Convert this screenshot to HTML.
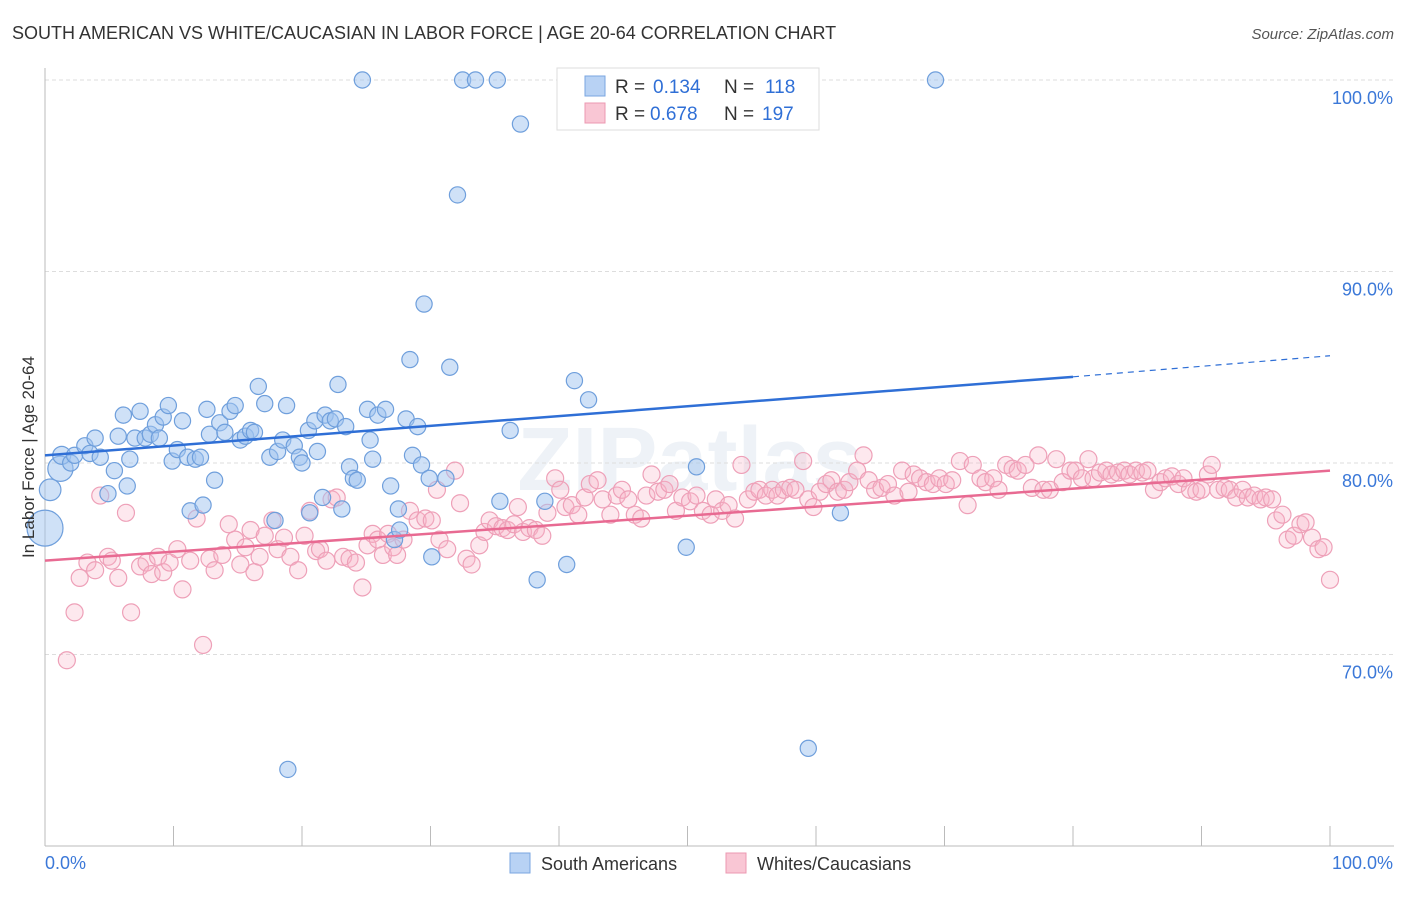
<!DOCTYPE html>
<html><head><meta charset="utf-8"><style>
body{margin:0;background:#fff;font-family:"Liberation Sans",sans-serif;}
svg text{font-family:"Liberation Sans",sans-serif;}
</style></head><body>
<svg id="chart" width="1406" height="892" viewBox="0 0 1406 892" xmlns="http://www.w3.org/2000/svg">
<text x="12" y="39" font-size="18" fill="#333">SOUTH AMERICAN VS WHITE/CAUCASIAN IN LABOR FORCE | AGE 20-64 CORRELATION CHART</text>
<text x="1394" y="39" font-size="15" fill="#555" text-anchor="end" font-style="italic">Source: ZipAtlas.com</text>
<text x="690" y="490" font-size="90" fill="#eef2f7" text-anchor="middle" font-weight="bold">ZIPatlas</text>
<g id="grid"></g>
<g id="axes"></g>
<g id="pink"></g>
<g id="blue"></g>
<g id="trends"></g>
<text transform="translate(34,457) rotate(-90)" font-size="17" fill="#333" text-anchor="middle">In Labor Force | Age 20-64</text>
<g>
<rect x="557" y="68" width="262" height="62" fill="#fff" stroke="#ddd"/>
<rect x="585" y="76" width="20" height="20" fill="#b8d2f4" stroke="#7aa6e0"/>
<rect x="585" y="103" width="20" height="20" fill="#f9c6d4" stroke="#ec98b2"/>
<text x="615" y="93" font-size="19" fill="#333">R =</text><text x="653" y="93" font-size="19" fill="#2f6fd6">0.134</text>
<text x="724" y="93" font-size="19" fill="#333">N =</text><text x="765" y="93" font-size="19" fill="#2f6fd6">118</text>
<text x="615" y="120" font-size="19" fill="#333">R =</text><text x="650" y="120" font-size="19" fill="#2f6fd6">0.678</text>
<text x="724" y="120" font-size="19" fill="#333">N =</text><text x="762" y="120" font-size="19" fill="#2f6fd6">197</text>
</g>
<g>
<rect x="510" y="853" width="20" height="20" fill="#b8d2f4" stroke="#7aa6e0"/>
<text x="541" y="870" font-size="18" fill="#333">South Americans</text>
<rect x="726" y="853" width="20" height="20" fill="#f9c6d4" stroke="#ec98b2"/>
<text x="757" y="870" font-size="18" fill="#333">Whites/Caucasians</text>
</g>
</svg>
<script>
const blueX=[0,0.4,1.2,1.3,2,2.3,3.1,3.5,3.9,4.3,4.9,5.4,5.7,6.1,6.4,6.6,7,7.4,7.8,8.2,8.6,8.9,9.2,9.6,9.9,10.3,10.7,11.1,11.3,11.7,12.1,12.3,12.6,12.8,13.2,13.6,14,14.4,14.8,15.2,15.6,16,16.3,16.6,17.1,17.5,17.9,18.1,18.5,18.8,18.9,19.4,19.8,20,20.5,20.6,21,21.2,21.6,21.8,22.2,22.6,22.8,23.1,23.4,23.7,24,24.3,24.7,25.1,25.3,25.5,25.9,26.5,26.9,27.2,27.5,27.6,28.1,28.4,28.6,29,29.3,29.5,29.9,30.1,31.2,31.5,32.1,32.5,33.5,35.2,35.4,37,36.2,38.3,38.9,40.6,41.2,42.3,49.9,50.7,59.4,61.9,69.3];
const blueY=[76.6,78.6,79.7,80.4,80.0,80.4,80.9,80.5,81.3,80.3,78.4,79.6,81.4,82.5,78.8,80.2,81.3,82.7,81.3,81.5,82,81.3,82.4,83,80.1,80.7,82.2,80.3,77.5,80.2,80.3,77.8,82.8,81.5,79.1,82.1,81.6,82.7,83,81.2,81.4,81.7,81.6,84,83.1,80.3,77,80.6,81.2,83,64,80.9,80.3,80,81.7,77.4,82.2,80.6,78.2,82.5,82.2,82.3,84.1,77.6,81.9,79.8,79.2,79.1,100,82.8,81.2,80.2,82.5,82.8,78.8,76,77.6,76.5,82.3,85.4,80.4,81.9,79.9,88.3,79.2,75.1,79.2,85,94,100,100,100,78,97.7,81.7,73.9,78,74.7,84.3,83.3,75.6,79.8,65.1,77.4,100];
const blueSize=[20,12,14,10,9,9,9,9,9,9,9,9,9,9,9,9,9,9,9,9,9,9,9,9,9,9,9,9,9,9,9,9,9,9,9,9,9,9,9,9,9,9,9,9,9,9,9,9,9,9,9,9,9,9,9,9,9,9,9,9,9,9,9,9,9,9,9,9,9,9,9,9,9,9,9,9,9,9,9,9,9,9,9,9,9,9,9,9,9,9,9,9,9,9,9,9,9,9,9,9,9,9,9,9,9];
const pinkX=[1.7,2.3,2.7,3.3,3.9,4.3,4.9,5.2,5.7,6.3,6.7,7.4,7.9,8.3,8.8,9.2,9.7,10.3,10.7,11.3,11.8,12.3,12.8,13.2,13.8,14.3,14.8,15.2,15.6,16,16.3,16.7,17.1,17.7,18.1,18.6,19.1,19.7,20.2,20.6,21.1,21.4,21.9,22.3,22.7,23.2,23.7,24.2,24.7,25.1,25.5,25.9,26.3,26.7,27.1,27.4,27.9,28.4,29,29.6,30.1,30.5,30.7,31.3,31.9,32.3,32.8,33.2,33.8,34.2,34.6,35.1,35.6,36,36.5,36.8,37.2,37.7,38.2,38.7,39.1,39.7,40.1,40.5,41,41.5,42,42.4,43,43.4,44,44.5,44.9,45.4,45.9,46.4,46.8,47.2,47.7,48.2,48.6,49.1,49.6,50.2,50.7,51.2,51.8,52.2,52.7,53.2,53.7,54.2,54.7,55.2,55.6,56.1,56.6,57,57.5,58,58.4,59,59.4,59.8,60.3,60.8,61.2,61.7,62.2,62.6,63.2,63.7,64.1,64.6,65.1,65.6,66.1,66.7,67.2,67.6,68.1,68.6,69.1,69.6,70.1,70.6,71.2,71.8,72.2,72.8,73.2,73.8,74.2,74.8,75.3,75.7,76.3,76.8,77.3,77.7,78.2,78.7,79.2,79.8,80.2,80.7,81.2,81.6,82.1,82.6,83,83.5,84,84.4,84.9,85.4,85.8,86.3,86.8,87.2,87.7,88.2,88.6,89.1,89.6,90,90.5,90.8,91.3,91.8,92.2,92.7,93.2,93.6,94.1,94.6,95,95.5,95.8,96.3,96.7,97.2,97.7,98.1,98.6,99.1,99.5,100];
const pinkY=[69.7,72.2,74,74.8,74.4,78.3,75.1,74.9,74,77.4,72.2,74.6,74.8,74.2,75.1,74.3,74.8,75.5,73.4,74.9,77.1,70.5,75,74.4,75.2,76.8,76,74.7,75.6,76.5,74.3,75.1,76.2,77,75.5,76.1,75.1,74.4,76.2,77.5,75.4,75.5,74.9,78.1,78.2,75.1,75,74.8,73.5,75.7,76.3,76,75.2,76.3,75.6,75.2,76,77.5,77,77.1,77,78.6,76,75.5,79.6,77.9,75,74.7,75.7,76.4,77,76.7,76.6,76.5,76.8,77.7,76.4,76.6,76.5,76.2,77.4,79.2,78.6,77.7,77.8,77.3,78.2,78.9,79.1,78.1,77.3,78.3,78.6,78.1,77.3,77.1,78.3,79.4,78.5,78.6,78.9,77.5,78.2,78,78.3,77.5,77.3,78.1,77.5,77.8,77.1,79.9,78.1,78.5,78.6,78.3,78.6,78.3,78.6,78.7,78.6,80.1,78.1,77.7,78.5,78.9,79.1,78.5,78.6,79,79.6,80.4,79.1,78.6,78.7,78.9,78.3,79.6,78.5,79.4,79.2,79,78.9,79.2,78.9,79.1,80.1,77.8,79.9,79.2,79,79.2,78.6,79.9,79.7,79.6,79.9,78.7,80.4,78.6,78.6,80.2,79,79.6,79.6,79.2,80.2,79.2,79.5,79.6,79.4,79.5,79.6,79.4,79.6,79.5,79.6,78.6,79,79.2,79.3,78.9,79.2,78.6,78.5,78.6,79.4,79.9,78.6,78.7,78.6,78.2,78.6,78.2,78.3,78.1,78.2,78.1,77,77.3,76,76.2,76.8,76.9,76.1,75.5,75.6,73.9];
const yTicks=[70,80,90,100];
const yTickLabels=["70.0%","80.0%","90.0%","100.0%"];
const xTicks=[0,10,20,30,40,50,60,70,80,90,100];
const blueTrend=[[0,80.4],[80,84.5],[100,85.6]];
const pinkTrend=[[0,74.9],[100,79.6]];
const X=v=>45+v*12.85, Y=v=>846-(v-60)*19.15;
const NS="http://www.w3.org/2000/svg";
function mk(tag,attrs,parent){const e=document.createElementNS(NS,tag);for(const k in attrs)e.setAttribute(k,attrs[k]);parent.appendChild(e);return e;}
const grid=document.getElementById('grid'),axes=document.getElementById('axes');
yTicks.forEach((t,i)=>{
 const l=mk('line',{x1:45,x2:1394,y1:Y(t),y2:Y(t),stroke:'#ddd','stroke-dasharray':'4,3'},grid);
 
 
 const tx=mk('text',{x:1393,y:Y(t)+24,'font-size':18,fill:'#3b78d8','text-anchor':'end'},axes);
 tx.textContent=yTickLabels[i];
 
 
});
const ax=mk('line',{x1:45,x2:1394,y1:846,y2:846,stroke:'#bbb'},axes);


const ay=mk('line',{x1:45,x2:45,y1:68,y2:846,stroke:'#bbb'},axes);


xTicks.forEach(t=>{const l=mk('line',{x1:X(t),x2:X(t),y1:826,y2:846,stroke:'#bbb'},axes);
 
 });
[['0.0%',45,'start'],['100.0%',1393,'end']].forEach(a=>{const t=mk('text',{x:a[1],y:869,'font-size':18,fill:'#3b78d8','text-anchor':a[2]},axes);t.textContent=a[0];
 
 });
const pg=document.getElementById('pink');
pinkX.forEach((x,i)=>{const c=mk('circle',{cx:X(x),cy:Y(pinkY[i]),r:8.5,fill:'rgba(248,180,200,0.3)',stroke:'#eea0b8','stroke-width':1.2},pg);
 
 });
const bg=document.getElementById('blue');
blueX.forEach((x,i)=>{const c=mk('circle',{cx:X(x),cy:Y(blueY[i]),r:blueSize[i]*0.9,fill:'rgba(160,195,240,0.5)',stroke:'#6f9fdc','stroke-width':1.2},bg);
 
 });
const tg=document.getElementById('trends');
const b1=mk('line',{x1:X(blueTrend[0][0]),y1:Y(blueTrend[0][1]),x2:X(blueTrend[1][0]),y2:Y(blueTrend[1][1]),stroke:'#2f6fd6','stroke-width':2.5},tg);


const b2=mk('line',{x1:X(blueTrend[1][0]),y1:Y(blueTrend[1][1]),x2:X(blueTrend[2][0]),y2:Y(blueTrend[2][1]),stroke:'#2f6fd6','stroke-width':1.2,'stroke-dasharray':'6,5'},tg);


const p1=mk('line',{x1:X(pinkTrend[0][0]),y1:Y(pinkTrend[0][1]),x2:X(pinkTrend[1][0]),y2:Y(pinkTrend[1][1]),stroke:'#e86a92','stroke-width':2.5},tg);


</script>
</body></html>
